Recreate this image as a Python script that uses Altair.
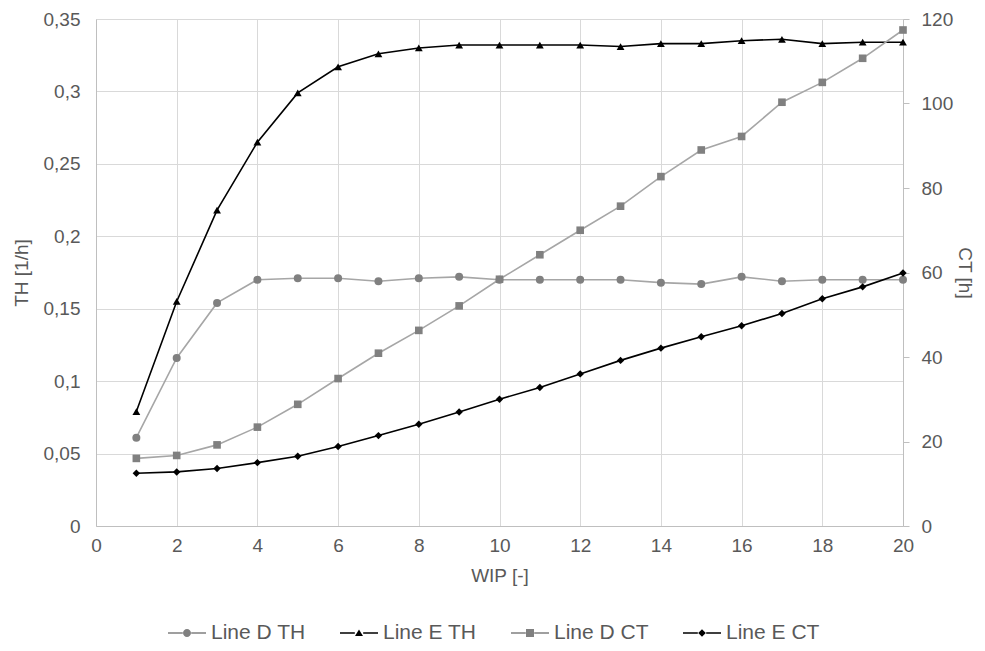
import altair as alt
import pandas as pd

wip = list(range(1, 21))
series_names = ["Line D TH", "Line E TH", "Line D CT", "Line E CT"]
d_th = [0.061, 0.116, 0.154, 0.170, 0.171, 0.171, 0.169, 0.171, 0.172, 0.170,
        0.170, 0.170, 0.170, 0.168, 0.167, 0.172, 0.169, 0.170, 0.170, 0.170]
e_th = [0.079, 0.155, 0.218, 0.265, 0.299, 0.317, 0.326, 0.330, 0.332, 0.332,
        0.332, 0.332, 0.331, 0.333, 0.333, 0.335, 0.336, 0.333, 0.334, 0.334]
d_ct = [16.0, 16.7, 19.2, 23.4, 28.8, 34.9, 40.9, 46.3, 52.1, 58.4,
        64.2, 70.0, 75.7, 82.7, 89.0, 92.2, 100.3, 105.0, 110.7, 117.4]
e_ct = [12.5, 12.8, 13.6, 15.0, 16.5, 18.8, 21.4, 24.1, 27.0, 30.0,
        32.8, 36.0, 39.2, 42.1, 44.8, 47.4, 50.3, 53.8, 56.6, 59.9]

x_ticks = list(range(0, 21, 2))
th_ticks = [0, 0.05, 0.1, 0.15, 0.2, 0.25, 0.3, 0.35]
ct_ticks = [0, 20, 40, 60, 80, 100, 120]

rows = []
for name, vals, kind in [(series_names[0], d_th, "TH"), (series_names[1], e_th, "TH"),
                         (series_names[2], d_ct, "CT"), (series_names[3], e_ct, "CT")]:
    for w, v in zip(wip, vals):
        rows.append({"wip": w, "value": v, "series": name, "kind": kind})
df = pd.DataFrame(rows)

FONT = "Liberation Sans"
TXT = "#595959"
GRID = "#d9d9d9"
AXL = "#bfbfbf"

line_colors = ["#a6a6a6", "#000000", "#a6a6a6", "#000000"]
marker_colors = ["#808080", "#000000", "#808080", "#000000"]
marker_shapes = ["circle", "triangle-up", "square", "diamond"]
marker_sizes = [64, 55, 70, 38]

seg = "M-1,-0.045H-0.22V0.045H-1Z M0.22,-0.045H1V0.045H0.22Z "
legend_paths = [
    seg + "M-0.21,0A0.21,0.21 0 1,1 0.21,0A0.21,0.21 0 1,1 -0.21,0Z",
    seg + "M0,-0.19L0.21,0.16H-0.21Z",
    seg + "M-0.21,-0.21H0.21V0.21H-0.21Z",
    seg + "M0,-0.2L0.2,0L0,0.2L-0.2,0Z",
]

x_enc = alt.X("wip:Q", scale=alt.Scale(domain=[0, 20], nice=False),
              axis=alt.Axis(values=x_ticks, title="WIP [-]", grid=True, gridColor=GRID,
                            ticks=False, domainColor=AXL, labelPadding=10,
                            titlePadding=11, labelFlush=False))

stroke_enc = alt.Stroke("series:N", scale=alt.Scale(domain=series_names, range=line_colors), legend=None)
fill_enc = alt.Fill("series:N", scale=alt.Scale(domain=series_names, range=marker_colors), legend=None)
shape_enc = alt.Shape("series:N", scale=alt.Scale(domain=series_names, range=marker_shapes), legend=None)
size_enc = alt.Size("series:N", scale=alt.Scale(domain=series_names, range=marker_sizes), legend=None)

y_th = alt.Y("value:Q", scale=alt.Scale(domain=[0, 0.35], nice=False),
             axis=alt.Axis(values=th_ticks, title="TH [1/h]", orient="left", grid=True,
                           gridColor=GRID, ticks=False, domainColor=AXL, labelPadding=16,
                           titlePadding=12, labelFlush=False,
                           labelExpr="replace(format(datum.value, '.2~f'), '.', ',')"))
y_ct = alt.Y("value:Q", scale=alt.Scale(domain=[0, 120], nice=False),
             axis=alt.Axis(values=ct_ticks, title="CT [h]", orient="right", grid=False,
                           ticks=True, tickSize=6, tickColor=AXL, domainColor=AXL,
                           labelPadding=12, titlePadding=2, labelFlush=False))

base = alt.Chart(df)
th_data = base.transform_filter(alt.datum.kind == "TH")
ct_data = base.transform_filter(alt.datum.kind == "CT")

th = alt.layer(
    th_data.mark_line(strokeWidth=1.6).encode(x=x_enc, y=y_th, stroke=stroke_enc),
    th_data.mark_point(filled=True, opacity=1).encode(x=x_enc, y=y_th, fill=fill_enc,
                                                      shape=shape_enc, size=size_enc),
)
ct = alt.layer(
    ct_data.mark_line(strokeWidth=1.6).encode(x=x_enc, y=y_ct, stroke=stroke_enc),
    ct_data.mark_point(filled=True, opacity=1).encode(x=x_enc, y=y_ct, fill=fill_enc,
                                                      shape=shape_enc, size=size_enc),
)

leg = alt.Legend(title=None, orient="none", direction="horizontal",
                 legendX=72, legendY=595, columnPadding=34,
                 labelOffset=5, symbolSize=1444, symbolStrokeWidth=0,
                 labelFontSize=21, labelColor=TXT, labelFont=FONT)

legend_layer = base.transform_filter("false").mark_point(filled=True, opacity=1, size=1444).encode(
    color=alt.Color("series:N", scale=alt.Scale(domain=series_names, range=marker_colors), legend=leg),
    shape=alt.Shape("series:N", scale=alt.Scale(domain=series_names, range=legend_paths), legend=leg),
)

chart = alt.layer(th, ct, legend_layer).resolve_scale(
    y="independent", shape="independent", color="independent"
).properties(
    width=807, height=507,
    autosize=alt.AutoSizeParams(type="none"),
    padding={"left": 96, "top": 19, "right": 82, "bottom": 125},
).configure(
    font=FONT,
).configure_view(
    stroke=None,
).configure_axis(
    labelFont=FONT, titleFont=FONT, labelFontSize=19, titleFontSize=19,
    labelColor=TXT, titleColor=TXT, titleFontWeight="normal", gridWidth=1,
)

chart.save("out.html", embed_options={"renderer": "svg", "actions": False})
